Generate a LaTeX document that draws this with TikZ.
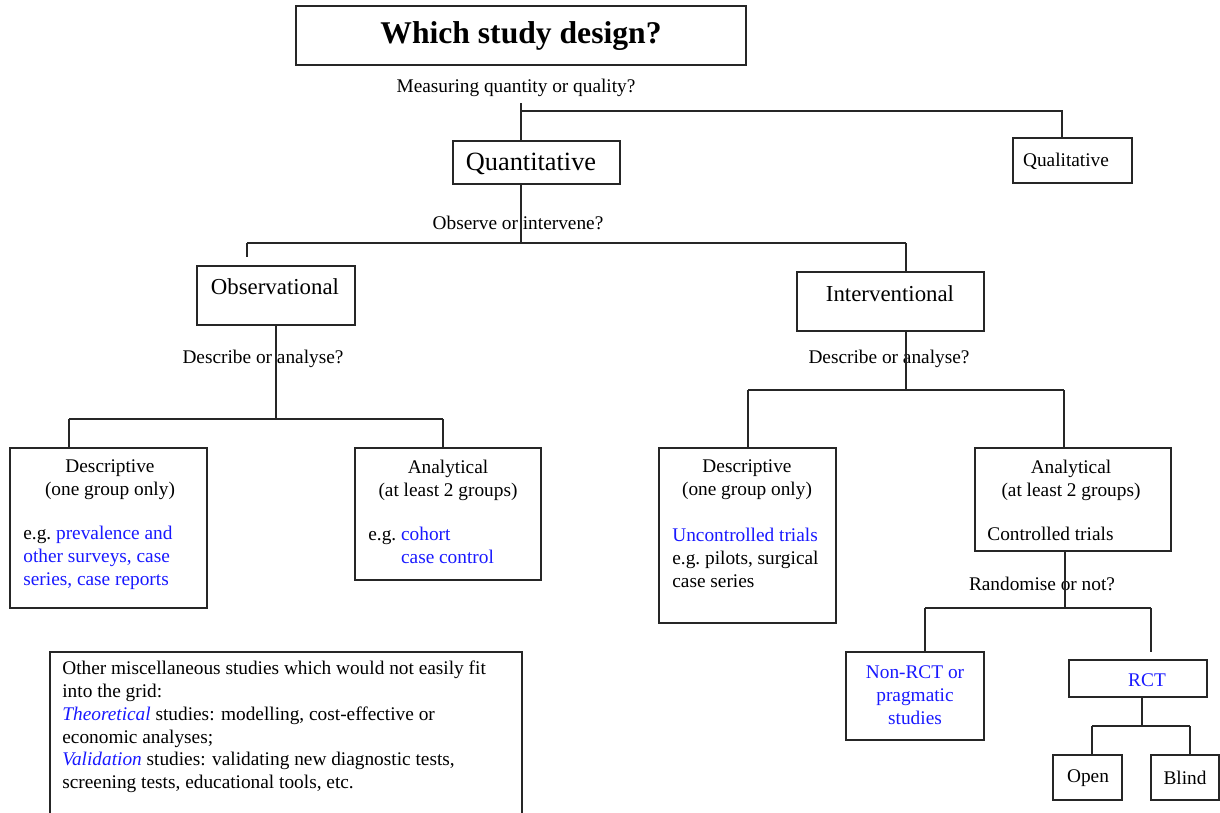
\documentclass[tikz,border=0pt]{standalone}
\usepackage{fontspec}
\setmainfont{Liberation Serif}
\usepackage{xcolor}
\usetikzlibrary{fit}
\definecolor{linkblue}{RGB}{25,25,255}

\begin{document}
\begin{tikzpicture}[x=0.02cm, y=-0.02cm,
    every node/.style={font=\fontsize{11}{13}\selectfont},
    box/.style={draw=black!85, line width=1pt, inner sep=0pt},
    conn/.style={draw=black!85, thick},
    bluetxt/.style={text=linkblue}]
        \useasboundingbox (0,0) rectangle (1220,812);
        % 绘制方框
        \node[box, fit={(296,6) (746,65)}] (title) {};
        \node[box, fit={(453,141) (620,184)}] (quant) {};
        \node[box, fit={(1013,138) (1132,183)}] (qual) {};
        \node[box, fit={(197,266) (355,325)}] (obs) {};
        \node[box, fit={(797,272) (984,331)}] (interv) {};
        \node[box, fit={(10,448) (207,608)}] (descobs) {};
        \node[box, fit={(355,448) (541,580)}] (analobs) {};
        \node[box, fit={(659,448) (836,623)}] (descint) {};
        \node[box, fit={(975,448) (1171,551)}] (analint) {};
        \node[box, fit={(846,652) (984,740)}] (nonrct) {};
        \node[box, fit={(1069,660) (1207,697)}] (rct) {};
        \node[box, fit={(1053,755) (1122,800)}] (open) {};
        \node[box, fit={(1151,755) (1219,800)}] (blind) {};
        \node[box, fit={(50,652) (522,830)}] (misc) {};
        % 方框里的文字
        \node (titletxt) at (521,36) {\fontsize{18}{20}\selectfont\bfseries Which study design?};
        \node (quanttxt) at (531,164) {\fontsize{15}{17}\selectfont Quantitative};
        \node (qualtxt) at (1066,161) {Qualitative};
        \node (obstxt) at (275,287) {\fontsize{13}{15}\selectfont Observational};
        \node (intervtxt) at (890,294) {\fontsize{13}{15}\selectfont Interventional};
        \node[align=center] (descobshd) at (110,480) {Descriptive\\(one group only)};
        \node[align=center] (analobshd) at (448,480) {Analytical\\(at least 2 groups)};
        \node[align=center] (descinthd) at (747,480) {Descriptive\\(one group only)};
        \node[align=center] (analinthd) at (1071,480) {Analytical\\(at least 2 groups)};
        \node[anchor=west, align=left, inner sep=0pt] (descobsbd) at (23,558)
            {e.g.\ \textcolor{linkblue}{prevalence and}\\
             \textcolor{linkblue}{other surveys, case}\\
             \textcolor{linkblue}{series, case reports}};
        \node[anchor=west, align=left, inner sep=0pt] (analobsbd) at (368,547)
            {e.g.\ \textcolor{linkblue}{cohort}\\
             \phantom{e.g.\ }\textcolor{linkblue}{case control}};
        \node[anchor=west, align=left, inner sep=0pt] (descintbd) at (672,558)
            {\textcolor{linkblue}{Uncontrolled trials}\\
             e.g.\ pilots, surgical\\
             case series};
        \node[anchor=west, inner sep=0pt] (analintbd) at (987,534) {Controlled trials};
        \node[align=center, bluetxt] (nonrcttxt) at (915,695) {Non-RCT or\\pragmatic\\studies};
        \node[bluetxt] (rcttxt) at (1147,680) {RCT};
        \node (opentxt) at (1088,778) {Open};
        \node (blindtxt) at (1185,778) {Blind};
        \node[anchor=west, align=left, inner sep=0pt] (misctxt) at (62,727)
            {Other miscellaneous studies which would not easily fit\\
             into the grid:\\
             \textcolor{linkblue}{\itshape Theoretical} studies: modelling, cost-effective or\\
             economic analyses;\\
             \textcolor{linkblue}{\itshape Validation} studies: validating new diagnostic tests,\\
             screening tests, educational tools, etc.};
        % 问题
        \node (q1) at (516,88) {Measuring quantity or quality?};
        \node (q2) at (518,223) {Observe or intervene?};
        \node (q3) at (263,359) {Describe or analyse?};
        \node (q4) at (889,359) {Describe or analyse?};
        \node (q5) at (1042,584) {Randomise or not?};
        % 分叉点
        \coordinate (j1) at (521,111);
        \coordinate (j1r) at (1062,111);
        \coordinate (j2) at (521,243);
        \coordinate (j2l) at (247,243);
        \coordinate (j2r) at (906,243);
        \coordinate (j3) at (276,419);
        \coordinate (j3l) at (69,419);
        \coordinate (j3r) at (443,419);
        \coordinate (j4) at (906,390);
        \coordinate (j4l) at (748,390);
        \coordinate (j4r) at (1064,390);
        \coordinate (j5) at (1065,608);
        \coordinate (j5l) at (925,608);
        \coordinate (j5r) at (1151,608);
        \coordinate (j6) at (1142,726);
        \coordinate (j6l) at (1092,726);
        \coordinate (j6r) at (1190,726);
        % 绘制连线
        \draw[conn] (q1.south -| j1) -- (j1 |- quant.north);
        \draw[conn] (j1) -- (j1r) -- (j1r |- qual.north);
        \draw[conn] (j2 |- quant.south) -- (j2);
        \draw[conn] (j2l) -- (j2r);
        \draw[conn, shorten >=0.16cm] (j2l) -- (j2l |- obs.north);
        \draw[conn] (j2r) -- (j2r |- interv.north);
        \draw[conn] (j3 |- obs.south) -- (j3);
        \draw[conn] (j3l) -- (j3r);
        \draw[conn] (j3l) -- (j3l |- descobs.north);
        \draw[conn] (j3r) -- (j3r |- analobs.north);
        \draw[conn] (j4 |- interv.south) -- (j4);
        \draw[conn] (j4l) -- (j4r);
        \draw[conn] (j4l) -- (j4l |- descint.north);
        \draw[conn] (j4r) -- (j4r |- analint.north);
        \draw[conn] (j5 |- analint.south) -- (j5);
        \draw[conn] (j5l) -- (j5r);
        \draw[conn] (j5l) -- (j5l |- nonrct.north);
        \draw[conn, shorten >=0.14cm] (j5r) -- (j5r |- rct.north);
        \draw[conn] (j6 |- rct.south) -- (j6);
        \draw[conn] (j6l) -- (j6r);
        \draw[conn] (j6l) -- (j6l |- open.north);
        \draw[conn] (j6r) -- (j6r |- blind.north);
    \end{tikzpicture}
\end{document}
